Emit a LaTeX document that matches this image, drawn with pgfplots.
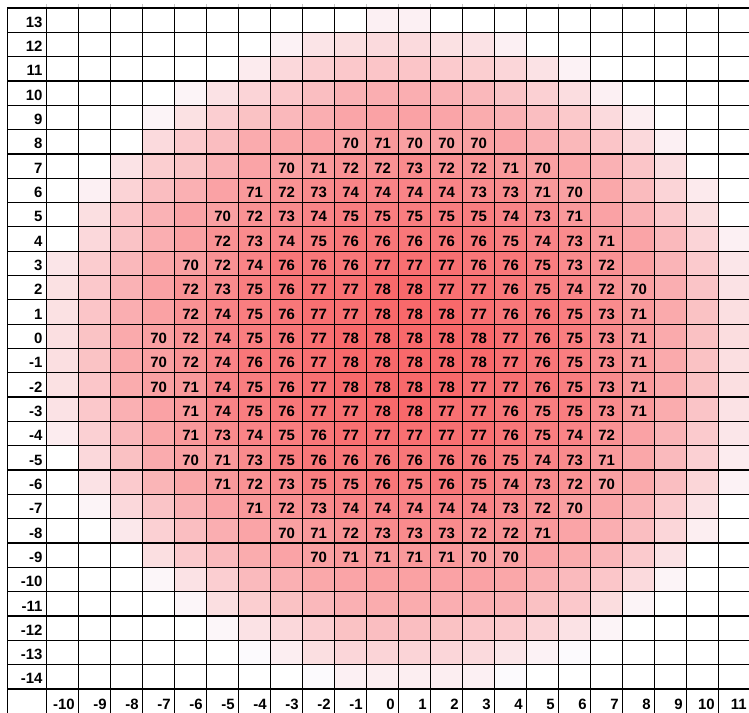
\documentclass[border=0pt]{standalone}
\usepackage{fontspec}
\setmainfont{Liberation Sans}
\usepackage{pgfplots}
\pgfplotsset{compat=1.18}
\usepackage{pgfplotstable}

\pgfplotstableread[row sep=\\]{
x y c\\
-10 13 56\\ -9 13 56\\ -8 13 56\\ -7 13 56\\ -6 13 56\\ -5 13 56\\ -4 13 56\\ -3 13 56\\ -2 13 56\\ -1 13 56\\ 0 13 58.2\\ 1 13 58.2\\ 2 13 56\\ 3 13 56\\ 4 13 56\\ 5 13 56\\ 6 13 56\\ 7 13 56\\ 8 13 56\\ 9 13 56\\ 10 13 56\\ 11 13 56\\
-10 12 56\\ -9 12 56\\ -8 12 56\\ -7 12 56\\ -6 12 56\\ -5 12 56\\ -4 12 56\\ -3 12 57.9\\ -2 12 60\\ -1 12 60.8\\ 0 12 61.4\\ 1 12 61.4\\ 2 12 60.5\\ 3 12 60.3\\ 4 12 58.2\\ 5 12 56\\ 6 12 56\\ 7 12 56\\ 8 12 56\\ 9 12 56\\ 10 12 56\\ 11 12 56\\
-10 11 56\\ -9 11 56\\ -8 11 56\\ -7 11 56\\ -6 11 56\\ -5 11 56\\ -4 11 59\\ -3 11 61.7\\ -2 11 63.2\\ -1 11 64.1\\ 0 11 64.5\\ 1 11 64.5\\ 2 11 63.8\\ 3 11 63.3\\ 4 11 62\\ 5 11 60.3\\ 6 11 57.9\\ 7 11 56\\ 8 11 56\\ 9 11 56\\ 10 11 56\\ 11 11 56\\
-10 10 56\\ -9 10 56\\ -8 10 56\\ -7 10 56\\ -6 10 57.6\\ -5 10 60.3\\ -4 10 62.3\\ -3 10 64.1\\ -2 10 65.5\\ -1 10 67.3\\ 0 10 67.9\\ 1 10 67.9\\ 2 10 67.3\\ 3 10 66.4\\ 4 10 64.7\\ 5 10 62.9\\ 6 10 61\\ 7 10 58.3\\ 8 10 56\\ 9 10 56\\ 10 10 56\\ 11 10 56\\
-10 9 56\\ -9 9 56\\ -8 9 56\\ -7 9 57.6\\ -6 9 60.5\\ -5 9 63.2\\ -4 9 65\\ -3 9 66.4\\ -2 9 67.9\\ -1 9 69.2\\ 0 9 69.6\\ 1 9 69.6\\ 2 9 69.2\\ 3 9 68.2\\ 4 9 67.3\\ 5 9 65.5\\ 6 9 64\\ 7 9 61.5\\ 8 9 58.5\\ 9 9 56\\ 10 9 56\\ 11 9 56\\
-10 8 56\\ -9 8 56\\ -8 8 56\\ -7 8 61.4\\ -6 8 63.8\\ -5 8 65.7\\ -4 8 68.3\\ -3 8 69\\ -2 8 69.5\\ -1 8 70\\ 0 8 71\\ 1 8 70\\ 2 8 70\\ 3 8 70\\ 4 8 69.2\\ 5 8 67.6\\ 6 8 66.5\\ 7 8 64.5\\ 8 8 61.6\\ 9 8 58.2\\ 10 8 56\\ 11 8 56\\
-10 7 56\\ -9 7 56\\ -8 7 60.1\\ -7 7 63.3\\ -6 7 64.6\\ -5 7 67.3\\ -4 7 69.3\\ -3 7 70\\ -2 7 71\\ -1 7 72\\ 0 7 72\\ 1 7 73\\ 2 7 72\\ 3 7 72\\ 4 7 71\\ 5 7 70\\ 6 7 68.8\\ 7 7 67.4\\ 8 7 64.5\\ 9 7 60.9\\ 10 7 56\\ 11 7 56\\
-10 6 56\\ -9 6 58.2\\ -8 6 62.5\\ -7 6 65.7\\ -6 6 67.6\\ -5 6 69.6\\ -4 6 71\\ -3 6 72\\ -2 6 73\\ -1 6 74\\ 0 6 74\\ 1 6 74\\ 2 6 74\\ 3 6 73\\ 4 6 73\\ 5 6 71\\ 6 6 70\\ 7 6 68.8\\ 8 6 66\\ 9 6 62.3\\ 10 6 59.1\\ 11 6 56\\
-10 5 56\\ -9 5 60.8\\ -8 5 64.5\\ -7 5 67.3\\ -6 5 69.3\\ -5 5 70\\ -4 5 72\\ -3 5 73\\ -2 5 74\\ -1 5 75\\ 0 5 75\\ 1 5 75\\ 2 5 75\\ 3 5 75\\ 4 5 74\\ 5 5 73\\ 6 5 71\\ 7 5 69.6\\ 8 5 67.3\\ 9 5 64.1\\ 10 5 60.8\\ 11 5 56\\
-10 4 56\\ -9 4 61.7\\ -8 4 64.8\\ -7 4 67.9\\ -6 4 69.7\\ -5 4 72\\ -4 4 73\\ -3 4 74\\ -2 4 75\\ -1 4 76\\ 0 4 76\\ 1 4 76\\ 2 4 76\\ 3 4 76\\ 4 4 75\\ 5 4 74\\ 6 4 73\\ 7 4 71\\ 8 4 69.3\\ 9 4 66.3\\ 10 4 62.3\\ 11 4 58.2\\
-10 3 59.8\\ -9 3 63.5\\ -8 3 66.4\\ -7 3 69\\ -6 3 70\\ -5 3 72\\ -4 3 74\\ -3 3 76\\ -2 3 76\\ -1 3 76\\ 0 3 77\\ 1 3 77\\ 2 3 77\\ 3 3 76\\ 4 3 76\\ 5 3 75\\ 6 3 73\\ 7 3 72\\ 8 3 69.8\\ 9 3 67\\ 10 3 63.8\\ 11 3 59.7\\
-10 2 60.5\\ -9 2 64.1\\ -8 2 67.3\\ -7 2 69.6\\ -6 2 72\\ -5 2 73\\ -4 2 75\\ -3 2 76\\ -2 2 77\\ -1 2 77\\ 0 2 78\\ 1 2 78\\ 2 2 77\\ 3 2 77\\ 4 2 76\\ 5 2 75\\ 6 2 74\\ 7 2 72\\ 8 2 70\\ 9 2 67.9\\ 10 2 64.7\\ 11 2 60.3\\
-10 1 60.5\\ -9 1 64.5\\ -8 1 67.9\\ -7 1 69.7\\ -6 1 72\\ -5 1 74\\ -4 1 75\\ -3 1 76\\ -2 1 77\\ -1 1 77\\ 0 1 78\\ 1 1 78\\ 2 1 78\\ 3 1 77\\ 4 1 76\\ 5 1 76\\ 6 1 75\\ 7 1 73\\ 8 1 71\\ 9 1 68.5\\ 10 1 65\\ 11 1 60.8\\
-10 0 60.8\\ -9 0 64.9\\ -8 0 68.5\\ -7 0 70\\ -6 0 72\\ -5 0 74\\ -4 0 75\\ -3 0 76\\ -2 0 77\\ -1 0 78\\ 0 0 78\\ 1 0 78\\ 2 0 78\\ 3 0 78\\ 4 0 77\\ 5 0 76\\ 6 0 75\\ 7 0 73\\ 8 0 71\\ 9 0 68.5\\ 10 0 65.2\\ 11 0 61.1\\
-10 -1 60.8\\ -9 -1 64.9\\ -8 -1 68.5\\ -7 -1 70\\ -6 -1 72\\ -5 -1 74\\ -4 -1 76\\ -3 -1 76\\ -2 -1 77\\ -1 -1 78\\ 0 -1 78\\ 1 -1 78\\ 2 -1 78\\ 3 -1 78\\ 4 -1 77\\ 5 -1 76\\ 6 -1 75\\ 7 -1 73\\ 8 -1 71\\ 9 -1 68.5\\ 10 -1 65\\ 11 -1 60.8\\
-10 -2 60.5\\ -9 -2 64.4\\ -8 -2 68.2\\ -7 -2 70\\ -6 -2 71\\ -5 -2 74\\ -4 -2 75\\ -3 -2 76\\ -2 -2 77\\ -1 -2 78\\ 0 -2 78\\ 1 -2 78\\ 2 -2 78\\ 3 -2 77\\ 4 -2 77\\ 5 -2 76\\ 6 -2 75\\ 7 -2 73\\ 8 -2 71\\ 9 -2 68.5\\ 10 -2 65\\ 11 -2 60.8\\
-10 -3 60.3\\ -9 -3 64.1\\ -8 -3 67.6\\ -7 -3 69.6\\ -6 -3 71\\ -5 -3 74\\ -4 -3 75\\ -3 -3 76\\ -2 -3 77\\ -1 -3 77\\ 0 -3 78\\ 1 -3 78\\ 2 -3 77\\ 3 -3 77\\ 4 -3 76\\ 5 -3 75\\ 6 -3 75\\ 7 -3 73\\ 8 -3 71\\ 9 -3 68.2\\ 10 -3 64.7\\ 11 -3 60.3\\
-10 -4 58.8\\ -9 -4 62.9\\ -8 -4 66.4\\ -7 -4 69\\ -6 -4 71\\ -5 -4 73\\ -4 -4 74\\ -3 -4 75\\ -2 -4 76\\ -1 -4 77\\ 0 -4 77\\ 1 -4 77\\ 2 -4 77\\ 3 -4 77\\ 4 -4 76\\ 5 -4 75\\ 6 -4 74\\ 7 -4 72\\ 8 -4 69.6\\ 9 -4 67\\ 10 -4 63.8\\ 11 -4 59.7\\
-10 -5 56\\ -9 -5 61.7\\ -8 -5 65.2\\ -7 -5 68.3\\ -6 -5 70\\ -5 -5 71\\ -4 -5 73\\ -3 -5 75\\ -2 -5 76\\ -1 -5 76\\ 0 -5 76\\ 1 -5 76\\ 2 -5 76\\ 3 -5 76\\ 4 -5 75\\ 5 -5 74\\ 6 -5 73\\ 7 -5 71\\ 8 -5 69\\ 9 -5 66.1\\ 10 -5 62.9\\ 11 -5 58.8\\
-10 -6 56\\ -9 -6 60.3\\ -8 -6 63.8\\ -7 -6 66.9\\ -6 -6 69\\ -5 -6 71\\ -4 -6 72\\ -3 -6 73\\ -2 -6 75\\ -1 -6 75\\ 0 -6 76\\ 1 -6 75\\ 2 -6 76\\ 3 -6 75\\ 4 -6 74\\ 5 -6 73\\ 6 -6 72\\ 7 -6 70\\ 8 -6 68.5\\ 9 -6 65.5\\ 10 -6 62.1\\ 11 -6 57.9\\
-10 -7 56\\ -9 -7 57.6\\ -8 -7 61.7\\ -7 -7 64.7\\ -6 -7 67.3\\ -5 -7 69.3\\ -4 -7 71\\ -3 -7 72\\ -2 -7 73\\ -1 -7 74\\ 0 -7 74\\ 1 -7 74\\ 2 -7 74\\ 3 -7 74\\ 4 -7 73\\ 5 -7 72\\ 6 -7 70\\ 7 -7 69\\ 8 -7 67\\ 9 -7 63.8\\ 10 -7 60.3\\ 11 -7 56\\
-10 -8 56\\ -9 -8 56\\ -8 -8 59.4\\ -7 -8 62.9\\ -6 -8 65.5\\ -5 -8 67.9\\ -4 -8 69.3\\ -3 -8 70\\ -2 -8 71\\ -1 -8 72\\ 0 -8 73\\ 1 -8 73\\ 2 -8 73\\ 3 -8 72\\ 4 -8 72\\ 5 -8 71\\ 6 -8 69.3\\ 7 -8 67.9\\ 8 -8 65.5\\ 9 -8 62\\ 10 -8 58.5\\ 11 -8 56\\
-10 -9 56\\ -9 -9 56\\ -8 -9 56\\ -7 -9 60.8\\ -6 -9 63.8\\ -5 -9 66.1\\ -4 -9 68.2\\ -3 -9 69.5\\ -2 -9 70\\ -1 -9 71\\ 0 -9 71\\ 1 -9 71\\ 2 -9 71\\ 3 -9 70\\ 4 -9 70\\ 5 -9 69.3\\ 6 -9 68.2\\ 7 -9 66.7\\ 8 -9 63.8\\ 9 -9 60.3\\ 10 -9 56\\ 11 -9 56\\
-10 -10 56\\ -9 -10 56\\ -8 -10 56\\ -7 -10 57.4\\ -6 -10 60.3\\ -5 -10 63.2\\ -4 -10 66.1\\ -3 -10 67.6\\ -2 -10 68.8\\ -1 -10 69.3\\ 0 -10 69.8\\ 1 -10 69.8\\ 2 -10 69.6\\ 3 -10 69.6\\ 4 -10 69\\ 5 -10 67.6\\ 6 -10 66.1\\ 7 -10 64.4\\ 8 -10 61.4\\ 9 -10 57.6\\ 10 -10 56\\ 11 -10 56\\
-10 -11 56\\ -9 -11 56\\ -8 -11 56\\ -7 -11 56\\ -6 -11 57.4\\ -5 -11 60.8\\ -4 -11 63.3\\ -3 -11 65\\ -2 -11 66.4\\ -1 -11 67.6\\ 0 -11 68.2\\ 1 -11 68.2\\ 2 -11 67.9\\ 3 -11 67.9\\ 4 -11 67.3\\ 5 -11 65.2\\ 6 -11 64.1\\ 7 -11 61.1\\ 8 -11 57.6\\ 9 -11 56\\ 10 -11 56\\ 11 -11 56\\
-10 -12 56\\ -9 -12 56\\ -8 -12 56\\ -7 -12 56\\ -6 -12 56\\ -5 -12 57.4\\ -4 -12 60.3\\ -3 -12 61.7\\ -2 -12 63.2\\ -1 -12 65\\ 0 -12 65.5\\ 1 -12 65.5\\ 2 -12 65\\ 3 -12 64.4\\ 4 -12 63.8\\ 5 -12 62.3\\ 6 -12 60.3\\ 7 -12 57.6\\ 8 -12 56\\ 9 -12 56\\ 10 -12 56\\ 11 -12 56\\
-10 -13 56\\ -9 -13 56\\ -8 -13 56\\ -7 -13 56\\ -6 -13 56\\ -5 -13 56\\ -4 -13 56.8\\ -3 -13 58.5\\ -2 -13 60.8\\ -1 -13 62\\ 0 -13 62.3\\ 1 -13 62.3\\ 2 -13 62\\ 3 -13 61.4\\ 4 -13 59.7\\ 5 -13 57.9\\ 6 -13 56.8\\ 7 -13 56\\ 8 -13 56\\ 9 -13 56\\ 10 -13 56\\ 11 -13 56\\
-10 -14 56\\ -9 -14 56\\ -8 -14 56\\ -7 -14 56\\ -6 -14 56\\ -5 -14 56\\ -4 -14 56\\ -3 -14 56\\ -2 -14 56.8\\ -1 -14 58.2\\ 0 -14 58.5\\ 1 -14 58.5\\ 2 -14 58.5\\ 3 -14 58.2\\ 4 -14 56.8\\ 5 -14 56\\ 6 -14 56\\ 7 -14 56\\ 8 -14 56\\ 9 -14 56\\ 10 -14 56\\ 11 -14 56\\
}\gridtable

\tikzset{
  gridline/.style={black, line width=0.95pt, line cap=rect},
  lbl/.style={inner sep=0pt, text=black, font=\fontsize{11.2}{13}\selectfont\bfseries},
}

\begin{document}
\begin{tikzpicture}
\begin{axis}[
  scale only axis, width=556.3pt, height=528.75pt,
  xmin=-11.731, xmax=11.447, ymin=-15.487, ymax=13.5,
  hide axis, clip=false,
  colormap={wr}{rgb255(0cm)=(255,255,255); rgb255(1cm)=(252,252,255); rgb255(44cm)=(248,105,107)},
  point meta min=56, point meta max=78,
  /pgf/number format/assume math mode=true,
]
\addplot[matrix plot*, mesh/cols=22, point meta=\thisrow{c}] table[x=x,y=y]{\gridtable};

% grid lines
\draw[gridline] (axis cs:-11.731,-15.6) -- (axis cs:-11.731,13.5);
\pgfplotsinvokeforeach{-10.5,-9.5,...,10.5}{
  \draw[gridline] (axis cs:#1,-15.6) -- (axis cs:#1,13.5);
  \draw[gray!45, line width=0.6pt] (axis cs:#1,13.5) -- ++(0pt,3pt);
}
\pgfplotsinvokeforeach{-14.5,-13.5,...,13.5}{
  \draw[gridline] (axis cs:-11.731,#1) -- (axis cs:11.6,#1);
}

% cell values (shown for 70 and above)
\addplot[only marks, mark=*, mark size=0pt, mark options={draw=none,fill=none},
  point meta=\thisrow{c},
  restrict expr to domain={\thisrow{c}}{69.99:100}, unbounded coords=discard,
  nodes near coords,
  every node near coord/.append style={lbl, anchor=base, yshift=-5.4pt}]
  table[x=x,y=y]{\gridtable};

% row labels
\pgfplotsinvokeforeach{-14,...,13}{
  \node[lbl, anchor=base east, xshift=-3pt, yshift=-5.4pt] at (axis cs:-10.5,#1) {#1};
}
% column labels
\pgfplotsinvokeforeach{-10,...,11}{
  \node[lbl, anchor=base east, xshift=9.2pt, yshift=-15.2pt] at (axis cs:#1,-14.5) {#1};
}

\coordinate (BL) at (axis cs:-11.731,-15.487);
\coordinate (TR) at (axis cs:11.447,13.5);
\end{axis}
\pgfresetboundingbox
\path[use as bounding box] ([xshift=-5.5pt]BL) rectangle ([yshift=6pt]TR);
\end{tikzpicture}
\end{document}
